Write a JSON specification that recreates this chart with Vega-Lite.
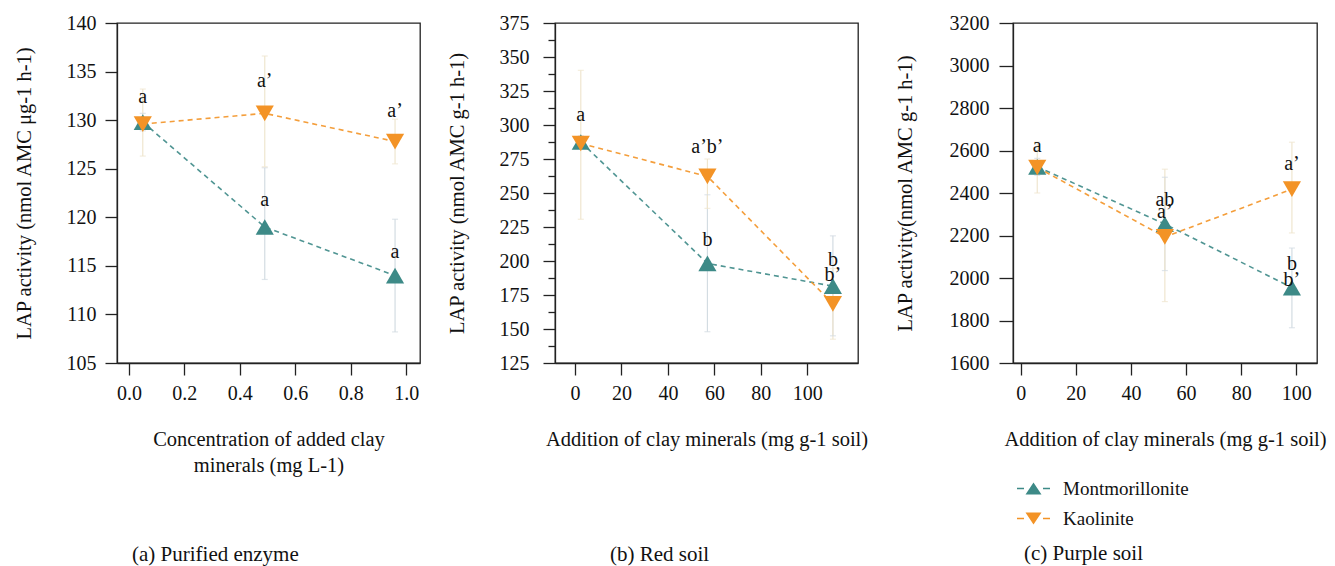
{
  "$schema": "https://vega.github.io/schema/vega-lite/v6.json",
  "padding": {"left": 13, "top": 12, "right": 5, "bottom": 5},
  "background": "white",
  "spacing": 25,
  "config": {
    "font": "Liberation Serif",
    "view": {"stroke": "#222", "strokeWidth": 1.3},
    "axis": {
      "grid": false, "labelOverlap": false,
      "domainColor": "#222", "domainWidth": 1.3,
      "tickColor": "#222", "tickWidth": 1.3, "tickSize": 12,
      "labelFont": "Liberation Serif", "labelFontSize": 20, "labelColor": "#111",
      "titleFont": "Liberation Serif", "titleFontSize": 20.5, "titleFontWeight": "normal", "titleColor": "#111"
    },
    "title": {"font": "Liberation Serif", "fontSize": 21, "fontWeight": "normal", "color": "#111"},
    "legend": {"labelFont": "Liberation Serif", "labelFontSize": 19, "labelColor": "#111"}
  },
  "resolve": {"scale": {"color": "independent", "shape": "independent", "stroke": "independent", "fill": "independent"}},
  "datasets": {
    "a": [
      {"mineral": "Montmorillonite", "x": 0.05, "y": 129.8, "lo": 128.9, "hi": 130.7},
      {"mineral": "Montmorillonite", "x": 0.49, "y": 119.0, "lo": 113.6, "hi": 125.1},
      {"mineral": "Montmorillonite", "x": 0.96, "y": 114.0, "lo": 108.2, "hi": 119.8},
      {"mineral": "Kaolinite", "x": 0.05, "y": 129.6, "lo": 126.3, "hi": 133.2},
      {"mineral": "Kaolinite", "x": 0.49, "y": 130.7, "lo": 125.2, "hi": 136.6},
      {"mineral": "Kaolinite", "x": 0.96, "y": 127.8, "lo": 125.5, "hi": 130.1}
    ],
    "aLabels": [
      {"x": 0.05, "y": 132.4, "text": "a"},
      {"x": 0.49, "y": 134.0, "text": "a’"},
      {"x": 0.96, "y": 130.9, "text": "a’"},
      {"x": 0.49, "y": 121.8, "text": "a"},
      {"x": 0.96, "y": 116.4, "text": "a"}
    ],
    "b": [
      {"mineral": "Montmorillonite", "x": 2.5, "y": 287.5, "lo": 283, "hi": 292},
      {"mineral": "Montmorillonite", "x": 57, "y": 198.2, "lo": 148, "hi": 248.7},
      {"mineral": "Montmorillonite", "x": 111, "y": 181.5, "lo": 145, "hi": 218.5},
      {"mineral": "Kaolinite", "x": 2.5, "y": 286.4, "lo": 230.7, "hi": 340.2},
      {"mineral": "Kaolinite", "x": 57, "y": 262.2, "lo": 238.7, "hi": 275},
      {"mineral": "Kaolinite", "x": 111, "y": 168.5, "lo": 142.5, "hi": 194.5}
    ],
    "bLabels": [
      {"x": 2.5, "y": 307.4, "text": "a"},
      {"x": 57, "y": 283.9, "text": "a’b’"},
      {"x": 57, "y": 215.5, "text": "b"},
      {"x": 111, "y": 201, "text": "b"},
      {"x": 111, "y": 189.4, "text": "b’"}
    ],
    "c": [
      {"mineral": "Montmorillonite", "x": 6, "y": 2523, "lo": 2483, "hi": 2563},
      {"mineral": "Montmorillonite", "x": 52.3, "y": 2254, "lo": 2035, "hi": 2474},
      {"mineral": "Montmorillonite", "x": 98.4, "y": 1955, "lo": 1766, "hi": 2141},
      {"mineral": "Kaolinite", "x": 6, "y": 2520, "lo": 2400, "hi": 2640},
      {"mineral": "Kaolinite", "x": 52.3, "y": 2193, "lo": 1889, "hi": 2512},
      {"mineral": "Kaolinite", "x": 98.4, "y": 2418, "lo": 2212, "hi": 2639}
    ],
    "cLabels": [
      {"x": 6, "y": 2623, "text": "a"},
      {"x": 52.3, "y": 2366, "text": "ab"},
      {"x": 52.3, "y": 2312, "text": "a’"},
      {"x": 98.4, "y": 2535, "text": "a’"},
      {"x": 98.4, "y": 2066, "text": "b"},
      {"x": 98.4, "y": 1990, "text": "b’"}
    ]
  },
  "hconcat": [
    {
      "width": 303, "height": 340,
      "title": {"text": "(a) Purified enzyme", "orient": "bottom", "anchor": "start", "frame": "group", "dx": 15, "offset": 68},
      "layer": [
        {
          "data": {"name": "a"},
          "mark": {"type": "rule", "strokeWidth": 1.2},
          "encoding": {
            "x": {"field": "x", "type": "quantitative", "scale": {"domain": [-0.043, 1.05], "nice": false, "zero": false},
                  "axis": {"values": [0, 0.2, 0.4, 0.6, 0.8, 1.0], "format": ".1f", "labelPadding": 8, "titlePadding": 26, "titleLineHeight": 26,
                           "title": ["Concentration of added clay", "minerals (mg L-1)"]}},
            "y": {"field": "lo", "type": "quantitative", "scale": {"domain": [105, 140], "nice": false, "zero": false},
                  "axis": {"values": [105, 107.5, 110, 112.5, 115, 117.5, 120, 122.5, 125, 127.5, 130, 132.5, 135, 137.5, 140],
                           "labelOverlap": false,
                           "labelExpr": "datum.value % 5 === 0 ? datum.label : ''",
                           "tickSize": {"condition": {"test": "datum.value % 5 === 0", "value": 12}, "value": 7},
                           "labelPadding": 9, "titlePadding": 32, "title": "LAP activity (nmol AMC μg-1 h-1)"}},
            "y2": {"field": "hi"},
            "stroke": {"field": "mineral", "type": "nominal", "scale": {"domain": ["Kaolinite", "Montmorillonite"], "range": ["#efe6cf", "#d3dce2"]}, "legend": null}
          }
        },
        {
          "data": {"name": "a"},
          "transform": [{"fold": ["lo", "hi"], "as": ["end", "val"]}],
          "mark": {"type": "tick", "orient": "horizontal", "size": 6, "thickness": 1.2},
          "encoding": {
            "x": {"field": "x", "type": "quantitative"},
            "y": {"field": "val", "type": "quantitative"},
            "fill": {"field": "mineral", "type": "nominal", "scale": {"domain": ["Kaolinite", "Montmorillonite"], "range": ["#efe6cf", "#d3dce2"]}, "legend": null}
          }
        },
        {
          "data": {"name": "a"},
          "mark": {"type": "line", "strokeDash": [5, 4], "strokeWidth": 1.6, "opacity": 0.9},
          "encoding": {
            "x": {"field": "x", "type": "quantitative"},
            "y": {"field": "y", "type": "quantitative"},
            "color": {"field": "mineral", "type": "nominal", "scale": {"domain": ["Montmorillonite", "Kaolinite"], "range": ["#3d8a87", "#f39326"]}, "legend": null}
          }
        },
        {
          "data": {"name": "a"},
          "mark": {"type": "point", "filled": true, "size": 330, "opacity": 1},
          "encoding": {
            "x": {"field": "x", "type": "quantitative"},
            "y": {"field": "y", "type": "quantitative"},
            "color": {"field": "mineral", "type": "nominal", "scale": {"domain": ["Montmorillonite", "Kaolinite"], "range": ["#3d8a87", "#f39326"]}, "legend": null},
            "shape": {"field": "mineral", "type": "nominal", "scale": {"domain": ["Kaolinite", "Montmorillonite"], "range": ["triangle-down", "triangle-up"]}, "legend": null}
          }
        },
        {
          "data": {"name": "aLabels"},
          "mark": {"type": "text", "fontSize": 20, "color": "#111", "font": "Liberation Serif"},
          "encoding": {
            "x": {"field": "x", "type": "quantitative"},
            "y": {"field": "y", "type": "quantitative"},
            "text": {"field": "text"}
          }
        }
      ]
    },
    {
      "width": 303, "height": 340,
      "title": {"text": "(b) Red soil", "orient": "bottom", "anchor": "start", "frame": "group", "dx": 55, "offset": 94},
      "resolve": {"axis": {"y": "independent"}},
      "layer": [
        {
          "data": {"name": "b"},
          "mark": {"type": "rule", "strokeWidth": 1.2},
          "encoding": {
            "x": {"field": "x", "type": "quantitative", "scale": {"domain": [-8.6, 121.8], "nice": false, "zero": false},
                  "axis": {"values": [0, 20, 40, 60, 80, 100], "labelPadding": 8, "titlePadding": 26,
                           "title": "Addition of clay minerals (mg g-1 soil)"}},
            "y": {"field": "lo", "type": "quantitative", "scale": {"domain": [125, 375], "nice": false, "zero": false},
                  "axis": {"orient": "left", "values": [125, 150, 175, 200, 225, 250, 275, 300, 325, 350, 375],
                           "labelOverlap": false, "tickSize": 12,
                           "labelPadding": 14, "titlePadding": 32, "title": "LAP activity (nmol AMC g-1 h-1)"}},
            "y2": {"field": "hi"},
            "stroke": {"field": "mineral", "type": "nominal", "scale": {"domain": ["Kaolinite", "Montmorillonite"], "range": ["#efe6cf", "#d3dce2"]}, "legend": null}
          }
        },
        {
          "data": {"name": "b"},
          "transform": [{"fold": ["lo", "hi"], "as": ["end", "val"]}],
          "mark": {"type": "tick", "orient": "horizontal", "size": 6, "thickness": 1.2},
          "encoding": {
            "x": {"field": "x", "type": "quantitative"},
            "y": {"field": "val", "type": "quantitative",
                  "axis": {"orient": "left", "values": [137.5, 162.5, 187.5, 212.5, 237.5, 262.5, 287.5, 312.5, 337.5, 362.5],
                           "labels": false, "domain": false, "tickSize": 7, "title": null}},
            "fill": {"field": "mineral", "type": "nominal", "scale": {"domain": ["Kaolinite", "Montmorillonite"], "range": ["#efe6cf", "#d3dce2"]}, "legend": null}
          }
        },
        {
          "data": {"name": "b"},
          "mark": {"type": "line", "strokeDash": [5, 4], "strokeWidth": 1.6, "opacity": 0.9},
          "encoding": {
            "x": {"field": "x", "type": "quantitative"},
            "y": {"field": "y", "type": "quantitative", "axis": null},
            "color": {"field": "mineral", "type": "nominal", "scale": {"domain": ["Montmorillonite", "Kaolinite"], "range": ["#3d8a87", "#f39326"]}, "legend": null}
          }
        },
        {
          "data": {"name": "b"},
          "mark": {"type": "point", "filled": true, "size": 330, "opacity": 1},
          "encoding": {
            "x": {"field": "x", "type": "quantitative"},
            "y": {"field": "y", "type": "quantitative", "axis": null},
            "color": {"field": "mineral", "type": "nominal", "scale": {"domain": ["Montmorillonite", "Kaolinite"], "range": ["#3d8a87", "#f39326"]}, "legend": null},
            "shape": {"field": "mineral", "type": "nominal", "scale": {"domain": ["Kaolinite", "Montmorillonite"], "range": ["triangle-down", "triangle-up"]}, "legend": null}
          }
        },
        {
          "data": {"name": "bLabels"},
          "mark": {"type": "text", "fontSize": 20, "color": "#111", "font": "Liberation Serif"},
          "encoding": {
            "x": {"field": "x", "type": "quantitative"},
            "y": {"field": "y", "type": "quantitative", "axis": null},
            "text": {"field": "text"}
          }
        }
      ]
    },
    {
      "width": 304, "height": 340,
      "title": {"text": "(c) Purple soil", "orient": "bottom", "anchor": "start", "frame": "group", "dx": 11, "offset": 14},
      "layer": [
        {
          "data": {"name": "c"},
          "mark": {"type": "rule", "strokeWidth": 1.2},
          "encoding": {
            "x": {"field": "x", "type": "quantitative", "scale": {"domain": [-2.8, 107.5], "nice": false, "zero": false},
                  "axis": {"values": [0, 20, 40, 60, 80, 100], "labelPadding": 8, "titlePadding": 26,
                           "title": "Addition of clay minerals (mg g-1 soil)"}},
            "y": {"field": "lo", "type": "quantitative", "scale": {"domain": [1600, 3200], "nice": false, "zero": false},
                  "axis": {"values": [1600, 1700, 1800, 1900, 2000, 2100, 2200, 2300, 2400, 2500, 2600, 2700, 2800, 2900, 3000, 3100, 3200],
                           "format": "d", "labelOverlap": false,
                           "labelExpr": "datum.value % 200 === 0 ? datum.label : ''",
                           "tickSize": {"condition": {"test": "datum.value % 200 === 0", "value": 14}, "value": 8},
                           "labelPadding": 10, "titlePadding": 34, "title": "LAP activity(nmol AMC g-1 h-1)"}},
            "y2": {"field": "hi"},
            "stroke": {"field": "mineral", "type": "nominal", "scale": {"domain": ["Kaolinite", "Montmorillonite"], "range": ["#efe6cf", "#d3dce2"]}, "legend": null}
          }
        },
        {
          "data": {"name": "c"},
          "transform": [{"fold": ["lo", "hi"], "as": ["end", "val"]}],
          "mark": {"type": "tick", "orient": "horizontal", "size": 6, "thickness": 1.2},
          "encoding": {
            "x": {"field": "x", "type": "quantitative"},
            "y": {"field": "val", "type": "quantitative"},
            "fill": {"field": "mineral", "type": "nominal", "scale": {"domain": ["Kaolinite", "Montmorillonite"], "range": ["#efe6cf", "#d3dce2"]}, "legend": null}
          }
        },
        {
          "data": {"name": "c"},
          "mark": {"type": "line", "strokeDash": [5, 4], "strokeWidth": 1.6, "opacity": 0.9},
          "encoding": {
            "x": {"field": "x", "type": "quantitative"},
            "y": {"field": "y", "type": "quantitative"},
            "color": {"field": "mineral", "type": "nominal", "scale": {"domain": ["Montmorillonite", "Kaolinite"], "range": ["#3d8a87", "#f39326"]},
                      "legend": {"orient": "none", "legendX": 11, "legendY": 456, "title": null, "symbolSize": 100, "symbolOpacity": 1, "symbolStrokeWidth": 0, "rowPadding": 10, "labelOffset": 20}}
          }
        },
        {
          "data": {"name": "c"},
          "transform": [{"filter": "datum.mineral === 'Montmorillonite'"}],
          "mark": {"type": "point", "filled": true, "size": 330, "opacity": 1, "shape": "triangle-up"},
          "encoding": {
            "x": {"field": "x", "type": "quantitative"},
            "y": {"field": "y", "type": "quantitative"},
            "color": {"field": "mineral", "type": "nominal", "scale": {"domain": ["Montmorillonite", "Kaolinite"], "range": ["#3d8a87", "#f39326"]},
                      "legend": {"orient": "none", "legendX": 11, "legendY": 456, "title": null, "symbolSize": 100, "symbolOpacity": 1, "symbolStrokeWidth": 0, "rowPadding": 10, "labelOffset": 20}}
          }
        },
        {
          "data": {"name": "c"},
          "transform": [{"filter": "datum.mineral === 'Kaolinite'"}],
          "mark": {"type": "point", "filled": true, "size": 330, "opacity": 1, "shape": "triangle-down"},
          "encoding": {
            "x": {"field": "x", "type": "quantitative"},
            "y": {"field": "y", "type": "quantitative"},
            "color": {"field": "mineral", "type": "nominal", "scale": {"domain": ["Montmorillonite", "Kaolinite"], "range": ["#3d8a87", "#f39326"]},
                      "legend": {"orient": "none", "legendX": 11, "legendY": 456, "title": null, "symbolSize": 100, "symbolOpacity": 1, "symbolStrokeWidth": 0, "rowPadding": 10, "labelOffset": 20}}
          }
        },
        {
          "data": {"name": "c"},
          "mark": {"type": "point", "filled": true, "size": 0},
          "encoding": {
            "x": {"field": "x", "type": "quantitative"},
            "y": {"field": "y", "type": "quantitative"},
            "color": {"field": "mineral", "type": "nominal", "scale": {"domain": ["Montmorillonite", "Kaolinite"], "range": ["#3d8a87", "#f39326"]},
                      "legend": {"orient": "none", "legendX": 11, "legendY": 456, "title": null, "symbolSize": 100, "symbolOpacity": 1, "symbolStrokeWidth": 0, "rowPadding": 10, "labelOffset": 20}},
            "shape": {"field": "mineral", "type": "nominal",
                      "scale": {"domain": ["Montmorillonite", "Kaolinite"], "range": ["M-3.3,-0.15H-1.9V0.15H-3.3Z M1.9,-0.15H3.3V0.15H1.9Z M0,-1.2L1.6,1.2H-1.6Z", "M-3.3,-0.15H-1.9V0.15H-3.3Z M1.9,-0.15H3.3V0.15H1.9Z M0,1.2L1.6,-1.2H-1.6Z"]},
                      "legend": {"orient": "none", "legendX": 11, "legendY": 456, "title": null, "symbolSize": 100, "symbolOpacity": 1, "symbolStrokeWidth": 0, "rowPadding": 10, "labelOffset": 20}}
          }
        },
        {
          "data": {"name": "cLabels"},
          "mark": {"type": "text", "fontSize": 20, "color": "#111", "font": "Liberation Serif"},
          "encoding": {
            "x": {"field": "x", "type": "quantitative"},
            "y": {"field": "y", "type": "quantitative"},
            "text": {"field": "text"}
          }
        }
      ]
    }
  ]
}
